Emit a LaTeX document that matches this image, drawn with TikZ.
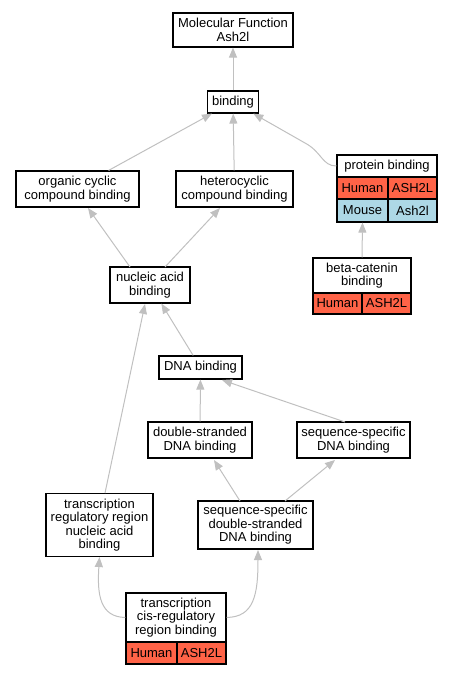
\documentclass[tikz,border=0pt]{standalone}
\usepackage{fontspec}
\setmainfont{Liberation Sans}
\usetikzlibrary{arrows.meta}
\definecolor{human}{HTML}{FF6347}
\definecolor{mouse}{HTML}{ADD8E6}
\definecolor{edgegray}{HTML}{C0C0C0}
\begin{document}
\begin{tikzpicture}[x=1pt,y=-1pt,
  every node/.style={font=\fontsize{13}{13.4}\selectfont},
  term/.style={draw=black,line width=1.1pt,fill=white,inner sep=0pt,align=center},
  cell/.style={draw=black,line width=1.1pt,inner sep=0pt,align=center},
  link/.style={draw=edgegray,line width=1pt,-{Triangle[length=10pt,width=8pt]}}]
\useasboundingbox (0,0) rectangle (452,675);
% plain terms
\node[term,minimum width=120pt,minimum height=34pt] (mf) at (233,30) {Molecular Function\\Ash2l};
\node[term,minimum width=51pt,minimum height=22pt] (bind) at (233,102) {binding};
\node[term,minimum width=123pt,minimum height=36pt] (ocb) at (77.5,189) {organic cyclic\\compound binding};
\node[term,minimum width=117pt,minimum height=36pt] (hcb) at (234.5,189) {heterocyclic\\compound binding};
\node[term,minimum width=80pt,minimum height=36pt] (nab) at (150,285) {nucleic acid\\binding};
\node[term,minimum width=83pt,minimum height=23pt] (dna) at (200.5,367.5) {DNA binding};
\node[term,minimum width=104pt,minimum height=36pt] (ds) at (200,440) {double-stranded\\DNA binding};
\node[term,minimum width=113pt,minimum height=36pt] (ss) at (353.5,440) {sequence-specific\\DNA binding};
\node[term,minimum width=107pt,minimum height=63pt] (trr) at (99.5,525) {transcription\\regulatory region\\nucleic acid\\binding};
\node[term,minimum width=115pt,minimum height=48pt] (ssds) at (255.5,525) {sequence-specific\\double-stranded\\DNA binding};
% protein binding table
\node[term,minimum width=100pt,minimum height=22pt] (pb) at (387,166) {protein binding};
\node[cell,fill=human,minimum width=51pt,minimum height=22pt] (pbh1) at (362.5,188) {Human};
\node[cell,fill=human,minimum width=49pt,minimum height=22pt] (pbh2) at (412.5,188) {ASH2L};
\node[cell,fill=mouse,minimum width=51pt,minimum height=23pt] (pbm1) at (362.5,210.5) {Mouse};
\node[cell,fill=mouse,minimum width=49pt,minimum height=23pt] (pbm2) at (412.5,210.5) {Ash2l};
% beta-catenin table
\node[term,minimum width=98pt,minimum height=35pt] (bc) at (362,275.5) {beta-catenin\\binding};
\node[cell,fill=human,minimum width=49pt,minimum height=21pt] (bch1) at (337.5,303.5) {Human};
\node[cell,fill=human,minimum width=49pt,minimum height=21pt] (bch2) at (386.5,303.5) {ASH2L};
% cis-regulatory table
\node[term,minimum width=100pt,minimum height=49pt] (cis) at (176,617.5) {transcription\\cis-regulatory\\region binding};
\node[cell,fill=human,minimum width=51pt,minimum height=22pt] (cish1) at (151.5,653) {Human};
\node[cell,fill=human,minimum width=49pt,minimum height=22pt] (cish2) at (201.5,653) {ASH2L};
% connectors
\coordinate (pbbend) at (305,143);
\draw[link] (bind) -- (mf);
\draw[link] (ocb.north east) ++(-31pt,0) coordinate (ocbt) -- (bind);
\draw[link] (hcb) -- (bind);
\draw[link] (pb.west) .. controls (322,166) and (322,152) .. (pbbend) -- (bind);
\draw[link] (bc.north) -- (pbm1.south);
\coordinate (nabl) at (130,267);
\coordinate (nabr) at (165,267);
\draw[link] (nabl) -- (88,208);
\draw[link] (nabr) -- (220,208);
\draw[link] (dna) -- (nab);
\coordinate (trrt) at (105,493);
\draw[link] (trrt) -- (145,304);
\draw[link] (ds) -- (dna);
\coordinate (sst) at (345,422);
\draw[link] (sst) -- (222,380);
\coordinate (ssdsl) at (240,501);
\coordinate (ssdsr) at (285,501);
\draw[link] (ssdsl) -- (214,460);
\draw[link] (ssdsr) -- (335,460);
\draw[link] (cis.west) .. controls (100,617) and (97,595) .. (trr.south);
\draw[link] (cis.east) .. controls (254,617) and (258,595) .. (258,550);
\end{tikzpicture}
\end{document}
